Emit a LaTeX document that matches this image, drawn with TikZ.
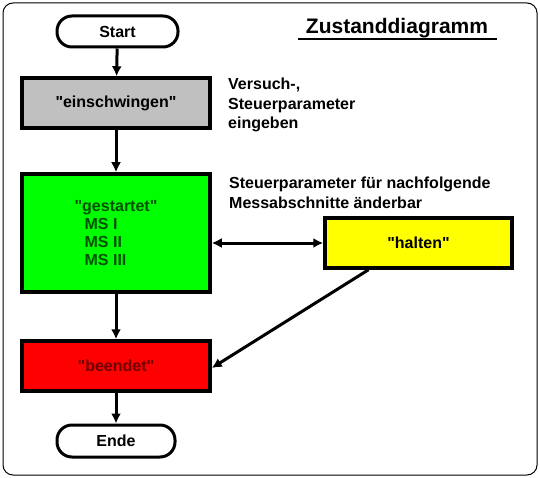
\documentclass[tikz,border=0pt]{standalone}
\usepackage{fontspec}
\setmainfont{Liberation Sans}[Ligatures=TeXOff]
\usetikzlibrary{arrows.meta}
\definecolor{boxgray}{RGB}{192,192,192}
\definecolor{boxgreen}{RGB}{0,255,0}
\definecolor{boxyellow}{RGB}{255,255,0}
\definecolor{boxred}{RGB}{255,0,0}
\definecolor{txtgreen}{RGB}{0,80,0}
\definecolor{txtred}{RGB}{110,0,0}
\newcommand\dq{\symbol{34}}
\tikzset{
  statebox/.style={draw=black, line width=3.5pt, minimum width=188pt, minimum height=50pt, inner sep=0pt, font=\fontsize{16}{19}\selectfont\bfseries},
  terminal/.style={draw=black, line width=3pt, rounded corners=15pt, fill=white, inner sep=0pt, font=\fontsize{16}{19}\selectfont\bfseries},
  note/.style={align=left, anchor=north west, inner sep=0pt, font=\fontsize{16}{19.5}\selectfont\bfseries},
  flow/.style={line width=3pt, -{Latex[length=10pt,width=10pt]}},
  twoway/.style={line width=3pt, {Latex[length=10pt,width=10pt]}-{Latex[length=10pt,width=10pt]}},
}
\begin{document}
\begin{tikzpicture}[x=1pt,y=-1pt]
\useasboundingbox (0,0) rectangle (540,478);
\draw[line width=1pt, rounded corners=10pt, fill=white] (3,3) rectangle (537,475);

\node[terminal, minimum width=121pt, minimum height=31pt] (start) at (117.5,31.5) {Start};
\node[statebox, fill=boxgray] (ein) at (116,103) {\dq einschwingen\dq};
\node[statebox, fill=boxgreen, minimum height=118pt, text=txtgreen, align=left] (gest) at (116,233)
  {\dq gestartet\dq\\[-1pt] \hspace*{10pt}MS I\\[-1pt] \hspace*{10pt}MS II\\[-1pt] \hspace*{10pt}MS III};
\node[statebox, fill=boxyellow, minimum width=187pt] (halt) at (418.5,243) {\dq halten\dq};
\node[statebox, fill=boxred, text=txtred] (been) at (116,366) {\dq beendet\dq};
\node[terminal, minimum width=118pt, minimum height=32pt] (ende) at (116,441) {Ende};

\node[note] (n1) at (228,78) {Versuch-,\\Steuerparameter\\eingeben};
\node[note] (n2) at (229,177) {Steuerparameter für nachfolgende\\Messabschnitte änderbar};

\node[inner sep=0pt, font=\fontsize{21}{24}\selectfont\bfseries] (title) at (397,28) {Zustanddiagramm};
\coordinate (ulA) at (298,39);
\coordinate (ulB) at (497,39);
\draw[line width=2pt] (ulA) -- (ulB);

\draw[flow] (start) -- (ein);
\draw[flow] (ein) -- (gest);
\draw[flow] (gest) -- (been);
\draw[flow] (been) -- (ende);
\draw[twoway] (gest.east |- halt.west) -- (halt.west);
\draw[flow] ([xshift=-50pt]halt.south) -- ([yshift=-2pt]been.east);
\end{tikzpicture}
\end{document}
